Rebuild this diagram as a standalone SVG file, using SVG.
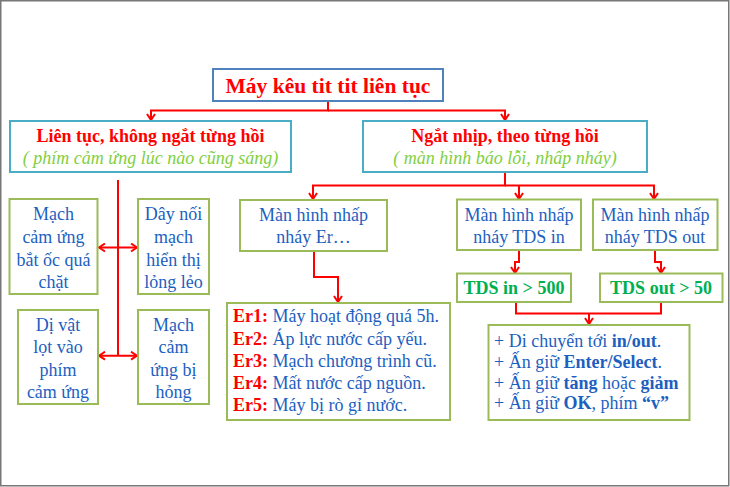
<svg xmlns="http://www.w3.org/2000/svg" width="730" height="487" viewBox="0 0 730 487">
<defs>
<marker id="arr" viewBox="0 0 8 10" refX="7" refY="5" markerWidth="8" markerHeight="10" markerUnits="userSpaceOnUse" orient="auto-start-reverse">
<path d="M1,1 L7,5 L1,9" fill="none" stroke="#ff0000" stroke-width="2"/>
</marker>
</defs>
<style>
text{font-family:"Liberation Serif","Times New Roman",serif;}
.blue{fill:#1d5fbf;font-size:18px;}
.c{text-anchor:middle;}
.red{fill:#ff0000;font-weight:bold;}
.grn{fill:#00b050;font-weight:bold;font-size:18px;}
.it{fill:#7fcf3f;font-style:italic;font-size:18px;}
.b{font-weight:bold;}
.gbox{fill:#ffffff;stroke:#9bbb59;stroke-width:2;}
.cbox{fill:#ffffff;stroke:#4bacc6;stroke-width:2;}
.conn path{fill:none;stroke:#ff0000;stroke-width:2;}
</style>
<rect x="0.75" y="0.75" width="728" height="485" fill="#ffffff" stroke="#777777" stroke-width="1.5"/>

<g class="conn" id="connectors">
<path d="M328,101 V110.5 H151 V120" marker-end="url(#arr)"/>
<path d="M328,110.5 H505 V120" marker-end="url(#arr)"/>
<path d="M505,172 V185.5 H313 V199" marker-end="url(#arr)"/>
<path d="M505,185.5 H654 V199" marker-end="url(#arr)"/>
<path d="M519,185.5 V199" marker-end="url(#arr)"/>
<path d="M118,180 V356"/>
<path d="M99,247.5 H137" marker-start="url(#arr)" marker-end="url(#arr)"/>
<path d="M99,355.7 H137" marker-start="url(#arr)" marker-end="url(#arr)"/>
<path d="M314,251 V277 H338 V302" marker-end="url(#arr)"/>
<path d="M519,250 V262 H515 V273" marker-end="url(#arr)"/>
<path d="M655,250 V262 H661 V273" marker-end="url(#arr)"/>
<path d="M516,302 V313.5 H661 V302"/>
<path d="M589,313.5 V324" marker-end="url(#arr)"/>
</g>

<g id="title">
<rect x="213" y="69" width="230" height="32" fill="#ffffff" stroke="#4f81bd" stroke-width="2"/>
<text x="328" y="93" class="c red" font-size="21.5">Máy kêu tit tit liên tục</text>
</g>

<g id="continuous">
<rect x="10" y="121" width="281" height="51" class="cbox"/>
<text x="150.5" y="142" class="c red" font-size="18">Liên tục, không ngắt từng hồi</text>
<text x="150.5" y="163.5" class="c it">( phím cảm ứng lúc nào cũng sáng)</text>
</g>

<g id="intermittent">
<rect x="363" y="121" width="284" height="51" class="cbox"/>
<text x="505" y="142" class="c red" font-size="18">Ngắt nhịp, theo từng hồi</text>
<text x="505" y="163.5" class="c it">( màn hình báo lỗi, nhấp nháy)</text>
</g>

<g id="touch-screw">
<rect x="9.5" y="199" width="88" height="95" class="gbox"/>
<text class="c blue"><tspan x="53.5" y="220">Mạch</tspan><tspan x="53.5" y="243">cảm ứng</tspan><tspan x="53.5" y="265.5">bắt ốc quá</tspan><tspan x="53.5" y="288">chặt</tspan></text>
</g>

<g id="loose-wire">
<rect x="138" y="199" width="71" height="95" class="gbox"/>
<text class="c blue"><tspan x="173.5" y="220">Dây nối</tspan><tspan x="173.5" y="243">mạch</tspan><tspan x="173.5" y="265.5">hiển thị</tspan><tspan x="173.5" y="288">lỏng lẻo</tspan></text>
</g>

<g id="foreign-object">
<rect x="18" y="310" width="80" height="94" class="gbox"/>
<text class="c blue"><tspan x="58" y="331">Dị vật</tspan><tspan x="58" y="353">lọt vào</tspan><tspan x="58" y="375.5">phím</tspan><tspan x="58" y="398">cảm ứng</tspan></text>
</g>

<g id="broken-circuit">
<rect x="138" y="310" width="71" height="94" class="gbox"/>
<text class="c blue"><tspan x="173.5" y="331">Mạch</tspan><tspan x="173.5" y="353">cảm</tspan><tspan x="173.5" y="375.5">ứng bị</tspan><tspan x="173.5" y="398">hỏng</tspan></text>
</g>

<g id="er-blink">
<rect x="240" y="200" width="147" height="51" class="gbox"/>
<text class="c blue"><tspan x="313.5" y="221">Màn hình nhấp</tspan><tspan x="313.5" y="243">nháy Er…</tspan></text>
</g>

<g id="er-list">
<rect x="227" y="303" width="223" height="117" class="gbox"/>
<text class="blue"><tspan x="233" y="322"><tspan class="red">Er1:</tspan> Máy hoạt động quá 5h.</tspan><tspan x="233" y="344.5"><tspan class="red">Er2:</tspan> Áp lực nước cấp yếu.</tspan><tspan x="233" y="367"><tspan class="red">Er3:</tspan> Mạch chương trình cũ.</tspan><tspan x="233" y="389"><tspan class="red">Er4:</tspan> Mất nước cấp nguồn.</tspan><tspan x="233" y="411"><tspan class="red">Er5:</tspan> Máy bị rò gỉ nước.</tspan></text>
</g>

<g id="tds-in-blink">
<rect x="457" y="199.5" width="124" height="50.5" class="gbox"/>
<text class="c blue"><tspan x="519" y="221">Màn hình nhấp</tspan><tspan x="519" y="243">nháy TDS in</tspan></text>
</g>

<g id="tds-out-blink">
<rect x="593" y="199.5" width="124.5" height="50.5" class="gbox"/>
<text class="c blue"><tspan x="655" y="221">Màn hình nhấp</tspan><tspan x="655" y="243">nháy TDS out</tspan></text>
</g>

<g id="tds-in-500">
<rect x="457" y="273.5" width="114" height="28.5" class="gbox"/>
<text x="514" y="294" class="c grn">TDS in &gt; 500</text>
</g>

<g id="tds-out-50">
<rect x="600" y="273.5" width="122.5" height="28.5" class="gbox"/>
<text x="661" y="294" class="c grn">TDS out &gt; 50</text>
</g>

<g id="instructions">
<rect x="488.5" y="325" width="201" height="95" class="gbox"/>
<text class="blue"><tspan x="494" y="346.5">+ Di chuyển tới <tspan class="b">in/out</tspan>.</tspan><tspan x="494" y="367.5">+ Ấn giữ <tspan class="b">Enter/Select</tspan>.</tspan><tspan x="494" y="388.5">+ Ấn giữ <tspan class="b">tăng</tspan> hoặc <tspan class="b">giảm</tspan></tspan><tspan x="494" y="409">+ Ấn giữ <tspan class="b">OK</tspan>, phím <tspan class="b">“v”</tspan></tspan></text>
</g>
</svg>
